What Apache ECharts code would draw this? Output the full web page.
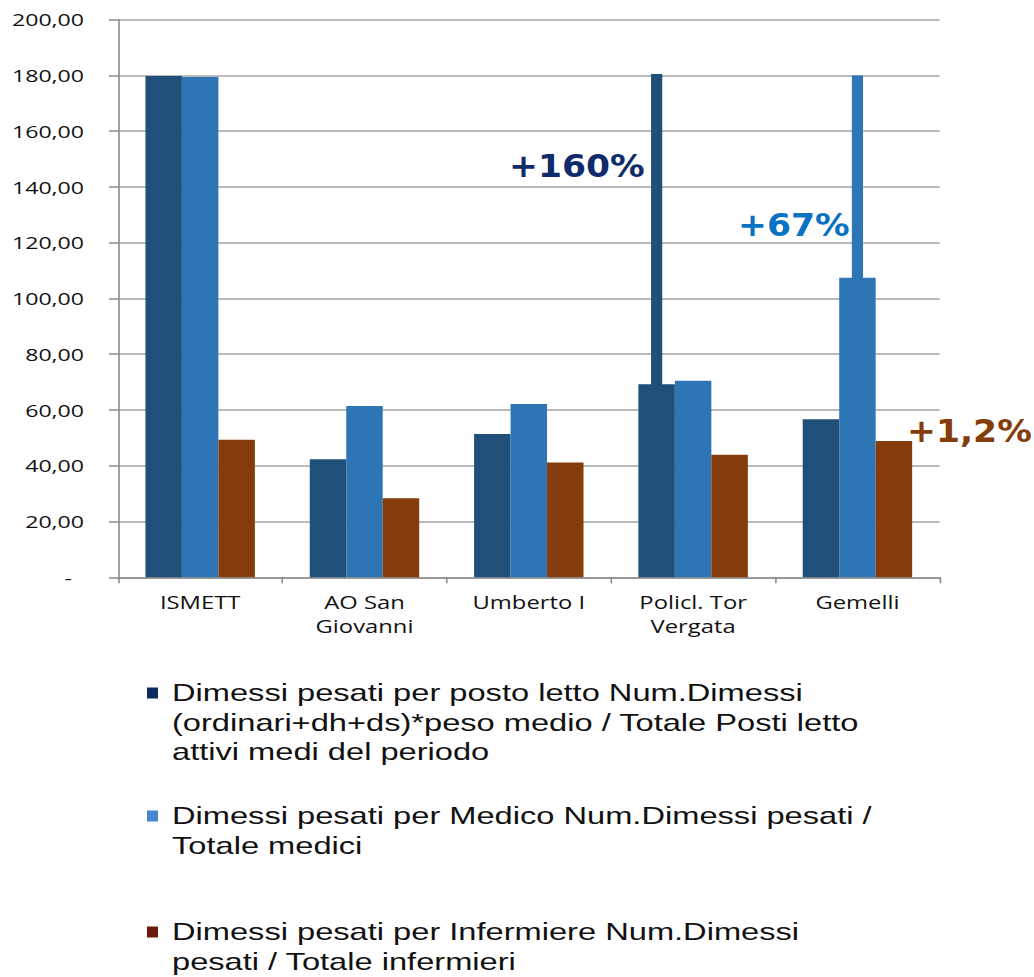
<!DOCTYPE html>
<html>
<head>
<meta charset="utf-8">
<script src="https://cdn.jsdelivr.net/npm/echarts@6/dist/echarts.min.js"></script>
<style>
html,body{margin:0;padding:0;background:#fff;overflow:hidden;}
#wrap{width:1034px;height:977px;overflow:hidden;position:relative;}
#chart{height:977px;transform-origin:0 0;position:absolute;left:0;top:0;}
</style>
</head>
<body>
<div id="wrap"><div id="chart"></div></div>
<script>
// ---- data ----
var categories = ['ISMETT', 'AO San\nGiovanni', 'Umberto I', 'Policl. Tor\nVergata', 'Gemelli'];
var seriesNames = [
  'Dimessi pesati per posto letto Num.Dimessi\n(ordinari+dh+ds)*peso medio / Totale Posti letto\nattivi medi del periodo',
  'Dimessi pesati per Medico Num.Dimessi pesati /\nTotale medici',
  'Dimessi pesati per Infermiere Num.Dimessi\npesati / Totale infermieri'
];
var postoLetto = [179.7, 42.3, 51.4, 69.2, 56.7];
var medico     = [179.4, 61.4, 62.1, 70.5, 107.4];
var infermiere = [49.3, 28.3, 41.2, 43.9, 48.9];
// values drawn as a thin bar above the (broken) column, up to the axis cap
var postoLettoOltre = [null, null, null, 180.5, null];
var medicoOltre     = [null, null, null, null, 179.9];
var yTicks = [0, 20, 40, 60, 80, 100, 120, 140, 160, 180, 200];
var annotations = ['+160%', '+67%', '+1,2%'];

// ---- layout: the reference picture is stretched horizontally ----
var S = 1.36;
var W = 1034 / S;
var el = document.getElementById('chart');
el.style.width = W + 'px';
el.style.transform = 'scaleX(' + S + ')';

var colDark = '#20507A', colLight = '#2E75B6', colBrown = '#843C0C';
var BAR_FRAC = 0.222;

function extData(arr, slot, baseArr) {
  var out = [];
  for (var i = 0; i < arr.length; i++) {
    if (arr[i] != null) out.push([i, baseArr[i], arr[i], slot]);
  }
  return out;
}

function renderExt(color) {
  return function (params, api) {
    var cat = api.value(0);
    var lo = api.coord([cat, api.value(1)]);
    var hi = api.coord([cat, api.value(2)]);
    var band = api.size([1, 0])[0];
    var cx = lo[0] + api.value(3) * band * BAR_FRAC;
    var w = band * 0.068;
    return {
      type: 'rect',
      shape: { x: cx - w / 2, y: hi[1], width: w, height: lo[1] - hi[1] + 1 },
      style: { fill: color }
    };
  };
}

var chart = echarts.init(el, null, { renderer: 'svg' });
var LH = 29.5;
function legendCfg(i, firstLineCenter, lines, iconColor) {
  var total = 2 * lines - 1;
  return {
    data: [{ name: seriesNames[i], itemStyle: { color: iconColor } }],
    orient: 'vertical', left: 147 / S, top: firstLineCenter - total * LH / 2, padding: 0,
    icon: 'rect', itemWidth: 11 / S, itemHeight: 11,
    selectedMode: false,
    formatter: function (name) { return new Array(lines).join('\n') + name; },
    textStyle: { fontFamily: 'Liberation Sans, Arial, sans-serif', fontSize: 24, lineHeight: LH, color: '#111',
                 padding: [0, 0, 0, 14 / S - 5] }
  };
}
var tickFont = { fontFamily: 'Open Sans', fontSize: 17, color: '#111' };

function annot(i, x, y, color) {
  return { type: 'text', x: x / S, y: y, scaleX: 1.08 / S, z: 100,
           style: { text: annotations[i], fill: color, font: 'bold 32px "DejaVu Sans"', verticalAlign: 'top' } };
}

chart.setOption({
  animation: false,
  grid: { left: 118 / S, right: W - 940 / S, top: 19.5, bottom: 399.7, containLabel: false },
  xAxis: {
    type: 'category',
    data: categories,
    axisLine: { lineStyle: { color: '#8c8c8c', width: 1.5 } },
    axisTick: { show: true, length: 6, lineStyle: { color: '#8c8c8c', width: 1.2 } },
    axisLabel: Object.assign({ lineHeight: 24, margin: 13 }, tickFont, { fontSize: 17.5 })
  },
  yAxis: {
    type: 'value', min: 0, max: 200, interval: 20,
    axisLine: { show: true, lineStyle: { color: '#8c8c8c', width: 1.2 } },
    axisTick: { show: true, length: 9 / S, lineStyle: { color: '#8c8c8c', width: 1.5 } },
    splitLine: { lineStyle: { color: '#a3a3a3', width: 1.5 } },
    axisLabel: Object.assign({
      margin: 34 / S,
      formatter: function (v) { return v === 0 ? '-  ' : v.toFixed(2).replace('.', ','); }
    }, tickFont)
  },
  legend: [
    legendCfg(0, 693, 3, '#0B2B5E'),
    legendCfg(1, 816, 2, '#4A86D0'),
    legendCfg(2, 932, 2, '#6B1A0B')
  ],
  series: [
    { name: seriesNames[0], type: 'bar', data: postoLetto, barWidth: '22.2%', barGap: '0%', itemStyle: { color: colDark } },
    { name: seriesNames[1], type: 'bar', data: medico, barWidth: '22.2%', barGap: '0%', itemStyle: { color: colLight } },
    { name: seriesNames[2], type: 'bar', data: infermiere, barWidth: '22.2%', barGap: '0%', itemStyle: { color: colBrown } },
    { type: 'custom', data: extData(postoLettoOltre, -1, postoLetto), renderItem: renderExt(colDark), z: 3 },
    { type: 'custom', data: extData(medicoOltre, 0, medico), renderItem: renderExt(colLight), z: 3 }
  ],
  graphic: [
    annot(0, 509, 150, '#0F2B6B'),
    annot(1, 738, 209, '#0A72C2'),
    annot(2, 907, 415, '#843C0C')
  ]
});
</script>
</body>
</html>
